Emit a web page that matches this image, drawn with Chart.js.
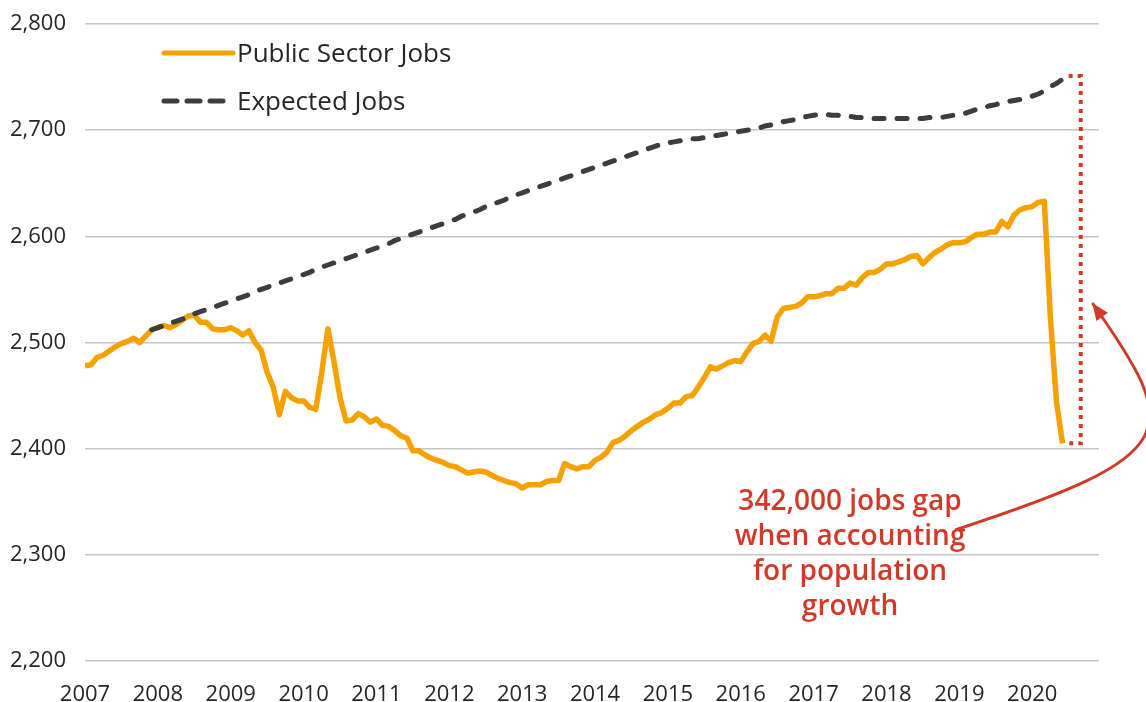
<!DOCTYPE html>
<html>
<head>
<meta charset="utf-8">
<title>Public Sector Jobs vs Expected Jobs</title>
<script src="https://cdn.jsdelivr.net/npm/chart.js@4.4.1/dist/chart.umd.min.js"></script>
<style>
  html, body { margin: 0; padding: 0; background: #fff; }
  #wrap { position: relative; width: 1146px; height: 702px; }
</style>
</head>
<body>
<div id="wrap"><canvas id="jobsChart"></canvas></div>
<script>
(function () {
  "use strict";

  // x axis = months since Jan 2007 (0 = Jan 2007), one tick per January
  const yearLabels = ["2007", "2008", "2009", "2010", "2011", "2012", "2013",
                      "2014", "2015", "2016", "2017", "2018", "2019", "2020"];
  const yMin = 2200, yMax = 2800, yStep = 100;
  const xMax = 167;

  // Public sector jobs (thousands), monthly from Jan 2007
  const publicStart = 0;
  const publicJobs = [
    2478, 2479, 2486, 2488, 2492, 2496, 2499, 2501, 2504, 2500, 2506, 2512,
    2514, 2516, 2514, 2517, 2521, 2525, 2526, 2519, 2519, 2513, 2512, 2512,
    2514, 2511, 2507, 2511, 2500, 2493, 2472, 2458, 2432, 2454, 2448, 2445,
    2445, 2439, 2437, 2472, 2513, 2482, 2448, 2426, 2427, 2433, 2430, 2425,
    2428, 2422, 2421, 2417, 2412, 2410, 2398, 2398, 2394, 2391, 2389, 2387,
    2384, 2383, 2380, 2377, 2378, 2379, 2378, 2375, 2372, 2370, 2368, 2367,
    2363, 2366, 2366, 2366, 2369, 2370, 2370, 2386, 2383, 2381, 2383, 2383,
    2389, 2392, 2397, 2406, 2408, 2412, 2417, 2421, 2425, 2428, 2432, 2434,
    2438, 2443, 2443, 2449, 2450, 2458, 2467, 2477, 2475, 2478, 2481, 2483,
    2482, 2491, 2499, 2501, 2507, 2501, 2524, 2532, 2533, 2534, 2537, 2543,
    2543, 2544, 2546, 2546, 2551, 2551, 2556, 2554, 2561, 2566, 2566, 2569,
    2574, 2574, 2576, 2578, 2581, 2582, 2574, 2580, 2585, 2588, 2592, 2594,
    2594, 2595, 2599, 2602, 2602, 2604, 2604, 2614, 2609, 2620, 2625, 2627,
    2628, 2632, 2633, 2523, 2444, 2405
  ];

  // Expected jobs (thousands), monthly from Dec 2007
  const expectedStart = 11;
  const expectedJobs = [
    2512,
    2514, 2516, 2518, 2520, 2522, 2524, 2527, 2529, 2531, 2533, 2535, 2537,
    2539, 2541, 2543, 2545, 2548, 2550, 2552, 2554, 2556, 2558, 2560, 2562,
    2564, 2566, 2569, 2571, 2573, 2575, 2577, 2579, 2581, 2583, 2585, 2587,
    2589, 2591, 2593, 2596, 2598, 2600, 2602, 2604, 2606, 2608, 2610, 2612,
    2614, 2616, 2619, 2621, 2623, 2625, 2628, 2630, 2632, 2634, 2637, 2639,
    2641, 2643, 2645, 2647, 2649, 2651, 2653, 2655, 2657, 2659, 2661, 2663,
    2665, 2667, 2669, 2671, 2673, 2675, 2677, 2679, 2681, 2683, 2685, 2687,
    2688, 2689, 2690, 2691, 2692, 2692, 2693, 2694, 2695, 2696, 2697, 2698,
    2699, 2700, 2701, 2702, 2704, 2705, 2706, 2708, 2709, 2710, 2712, 2713,
    2714, 2715, 2715, 2714, 2714, 2713, 2713, 2712, 2712, 2711, 2711, 2711,
    2711, 2711, 2711, 2711, 2711, 2711, 2711, 2712, 2712, 2712, 2713, 2714,
    2715, 2716, 2718, 2720, 2721, 2723, 2724, 2726, 2727, 2728, 2729, 2731,
    2732, 2734, 2737, 2741, 2744, 2748, 2751
  ];

  // gap bracket drawn from the last expected value down to the last actual value
  const gapMonths = [162, 164];
  const gapNote = ["342,000 jobs gap", "when accounting", "for population", "growth"];

  const ORANGE = "#f5a100";
  const DARK   = "#3d3d3d";
  const RED    = "#d13a28";
  const GRID   = "#c6c6c6";
  const TEXT   = "#262626";
  const FONT   = "'Open Sans', 'Noto Sans', sans-serif";

  function toPoints(start, values) {
    return values.map((v, k) => ({ x: start + k, y: v }));
  }

  const gapTop = expectedJobs[expectedJobs.length - 1];
  const gapBottom = publicJobs[publicJobs.length - 1];
  const gapPoints = [
    { x: gapMonths[0], y: gapTop },
    { x: gapMonths[1], y: gapTop },
    { x: gapMonths[1], y: gapBottom },
    { x: gapMonths[0], y: gapBottom }
  ];

  // legend drawn inside the plot, top-left
  const insideLegend = {
    id: "insideLegend",
    afterDraw(chart) {
      const { ctx, chartArea } = chart;
      const x0 = chartArea.left + 79, x1 = chartArea.left + 144, tx = chartArea.left + 152;
      const rows = [
        { ds: chart.data.datasets[0], y: chartArea.top + 29, dash: [] },
        { ds: chart.data.datasets[1], y: chartArea.top + 77, dash: [13, 10] }
      ];
      ctx.save();
      rows.forEach(r => {
        ctx.beginPath();
        ctx.setLineDash(r.dash);
        ctx.lineCap = "round";
        ctx.lineWidth = 5;
        ctx.strokeStyle = r.ds.borderColor;
        ctx.moveTo(x0, r.y);
        ctx.lineTo(r.dash.length ? x1 - 2 : x1 + 4, r.y);
        ctx.stroke();
        ctx.setLineDash([]);
        ctx.font = "26px " + FONT;
        ctx.fillStyle = TEXT;
        ctx.textAlign = "left";
        ctx.textBaseline = "alphabetic";
        ctx.fillText(r.ds.label, tx, r.y + 9);
      });
      ctx.restore();
    }
  };

  // red note and curved arrow pointing at the gap
  const gapAnnotation = {
    id: "gapAnnotation",
    afterDraw(chart) {
      const { ctx } = chart;
      const xs = chart.scales.x, ys = chart.scales.y;
      const px = (m, v) => [xs.getPixelForValue(m), ys.getPixelForValue(v)];

      ctx.save();
      ctx.fillStyle = RED;
      ctx.font = "600 28px " + FONT;
      ctx.textAlign = "center";
      ctx.textBaseline = "alphabetic";
      const [nx, ny] = px(126, 2342);
      gapNote.forEach((line, k) => ctx.fillText(line, nx, ny + k * 35));

      const p0 = px(143.3, 2323.4);
      const p1 = px(181, 2394);
      const p2 = px(181, 2414.8);
      const p3 = px(165.9, 2537.2);
      ctx.strokeStyle = RED;
      ctx.lineWidth = 3;
      ctx.beginPath();
      ctx.moveTo(p0[0], p0[1]);
      ctx.bezierCurveTo(p1[0], p1[1], p2[0], p2[1], p3[0], p3[1]);
      ctx.stroke();

      const ang = Math.atan2(p3[1] - p2[1], p3[0] - p2[0]);
      const len = 17, half = 7;
      const bx = p3[0] - len * Math.cos(ang), by = p3[1] - len * Math.sin(ang);
      ctx.beginPath();
      ctx.moveTo(p3[0], p3[1]);
      ctx.lineTo(bx + half * Math.sin(ang), by - half * Math.cos(ang));
      ctx.lineTo(bx - half * Math.sin(ang), by + half * Math.cos(ang));
      ctx.closePath();
      ctx.fill();
      ctx.restore();
    }
  };

  new Chart(document.getElementById("jobsChart"), {
    type: "line",
    data: {
      datasets: [
        {
          label: "Public Sector Jobs",
          data: toPoints(publicStart, publicJobs),
          borderColor: ORANGE, borderWidth: 5.5, borderJoinStyle: "round",
          pointRadius: 0, tension: 0, order: 2
        },
        {
          label: "Expected Jobs",
          data: toPoints(expectedStart, expectedJobs),
          borderColor: DARK, borderWidth: 5, borderDash: [10, 13], borderCapStyle: "round",
          pointRadius: 0, tension: 0, order: 1
        },
        {
          label: "Gap",
          data: gapPoints,
          borderColor: RED, borderWidth: 4, borderDash: [4, 5],
          pointRadius: 0, tension: 0, order: 0
        }
      ]
    },
    options: {
      responsive: true,
      maintainAspectRatio: false,
      animation: false,
      layout: { padding: { top: 24, right: 47, left: 0, bottom: 0 } },
      plugins: { legend: { display: false }, tooltip: { enabled: false } },
      scales: {
        x: {
          type: "linear", min: 0, max: xMax,
          afterBuildTicks: s => { s.ticks = yearLabels.map((_, k) => ({ value: k * 12 })); },
          afterFit: s => { s.height = 41; s.paddingLeft = 0; s.paddingRight = 0; },
          ticks: {
            autoSkip: false, maxRotation: 0, padding: 13,
            color: TEXT, font: { family: FONT, size: 22 },
            callback: v => yearLabels[v / 12]
          },
          grid: { display: false },
          border: { display: false }
        },
        y: {
          min: yMin, max: yMax,
          afterFit: s => { s.width = 85; s.paddingTop = 0; s.paddingBottom = 0; },
          ticks: {
            stepSize: yStep, padding: 19,
            color: TEXT, font: { family: FONT, size: 22 },
            callback: v => Number(v).toLocaleString("en-US")
          },
          grid: { color: GRID, lineWidth: 1.5, drawTicks: false },
          border: { display: false }
        }
      }
    },
    plugins: [insideLegend, gapAnnotation]
  });
})();
</script>
</body>
</html>
